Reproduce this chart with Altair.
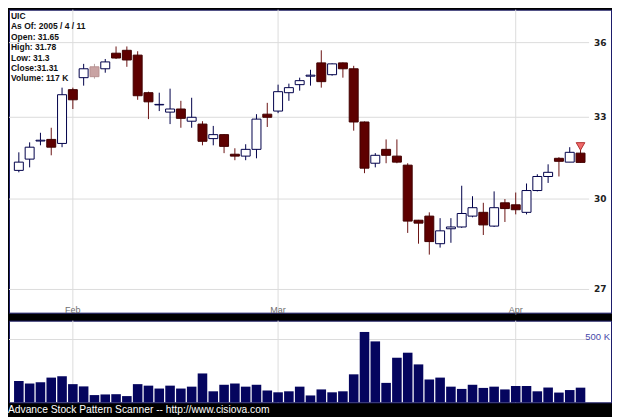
import altair as alt
import pandas as pd

# ---- data ----
dates = ["01-25", "01-26", "01-27", "01-28", "01-31",
         "02-01", "02-02", "02-03", "02-04", "02-07", "02-08", "02-09", "02-10", "02-11",
         "02-14", "02-15", "02-16", "02-17", "02-18", "02-22", "02-23", "02-24", "02-25", "02-28",
         "03-01", "03-02", "03-03", "03-04", "03-07", "03-08", "03-09", "03-10", "03-11",
         "03-14", "03-15", "03-16", "03-17", "03-18", "03-21", "03-22", "03-23", "03-24",
         "03-28", "03-29", "03-30", "03-31",
         "04-01", "04-04", "04-05", "04-06", "04-07", "04-08", "04-11"]
opens = [31.02, 31.43, 32.10, 32.16, 32.01,
         34.08, 34.56, 34.60, 34.92, 35.56, 35.68, 35.48, 33.96, 33.48,
         33.20, 33.32, 32.85, 32.74, 32.19, 32.34, 31.61, 31.54, 31.79, 33.12,
         33.24, 33.96, 34.28, 34.62, 35.16, 34.68, 35.16, 34.92, 32.82,
         31.28, 31.79, 31.54, 31.21, 29.27, 29.41, 28.48, 28.98, 29.04,
         29.41, 29.54, 29.07, 29.87,
         29.80, 29.54, 30.30, 30.80, 31.46, 31.32, 31.65]
highs = [31.68, 32.05, 32.41, 32.60, 34.16,
         34.16, 35.12, 35.12, 35.32, 35.84, 35.84, 35.64, 34.00, 33.96,
         34.12, 33.64, 33.76, 32.85, 32.67, 32.36, 31.83, 31.98, 33.12, 33.56,
         34.28, 34.32, 34.56, 34.88, 35.68, 35.14, 35.18, 35.04, 32.84,
         31.65, 32.16, 32.16, 31.28, 29.28, 29.54, 29.34, 29.34, 30.47,
         30.10, 29.87, 30.27, 30.00,
         30.23, 30.55, 30.88, 31.24, 31.50, 31.87, 31.78]
lows = [30.95, 31.13, 31.94, 31.57, 31.87,
        33.32, 34.24, 34.52, 34.76, 35.32, 35.00, 33.68, 32.93, 33.24,
        32.74, 32.60, 32.60, 31.94, 31.94, 31.65, 31.39, 31.39, 31.46, 32.63,
        33.16, 33.64, 34.04, 34.24, 34.16, 34.64, 34.56, 32.49, 30.92,
        31.13, 31.28, 31.28, 28.84, 28.48, 28.12, 28.35, 28.51, 29.01,
        29.37, 28.77, 29.04, 29.21,
        29.47, 29.47, 30.27, 30.57, 30.80, 31.32, 31.30]
closes = [31.32, 31.87, 32.13, 31.87, 33.88,
          33.68, 34.92, 35.00, 35.20, 35.36, 35.28, 33.84, 33.60, 33.50,
          33.32, 32.96, 33.00, 32.09, 32.34, 31.90, 31.54, 31.79, 32.93, 33.00,
          34.00, 34.16, 34.44, 34.66, 34.40, 35.12, 34.92, 32.82, 31.10,
          31.57, 31.57, 31.32, 29.24, 29.17, 28.55, 28.91, 29.04, 29.50,
          29.70, 29.11, 29.70, 29.67,
          29.63, 30.30, 30.80, 30.95, 31.35, 31.68, 31.31]
kinds = ["up", "up", "up", "down", "up",
         "down", "up", "pink", "up", "down", "down", "down", "down", "up",
         "up", "down", "up", "down", "up", "down", "down", "up", "up", "down",
         "up", "up", "up", "up", "down", "up", "down", "down", "down",
         "up", "down", "down", "down", "down", "down", "up", "up", "up",
         "up", "down", "up", "down",
         "down", "up", "up", "up", "down", "up", "down"]
volumes_k = [170, 150, 160, 197, 208,
             145, 127, 58, 63, 65, 50, 145, 133, 110,
             133, 110, 125, 230, 88, 140, 150, 125, 140, 95,
             80, 88, 125, 55, 103, 80, 88, 223, 560,
             485, 155, 355, 395, 302, 182, 197, 125, 107,
             140, 115, 125, 103,
             130, 130, 88, 118, 78, 98, 117]

month_names = ["Feb", "Mar", "Apr"]
month_idx = [5, 24, 46]
price_ticks = [27, 30, 33, 36]
vol_ticks = [500000]
vol_tick_labels = ["500 K"]
signal_idx = [52]
signal_price = [31.9]

ticker = "UIC"
as_of = "2005 / 4 / 11"
footer = "Advance Stock Pattern Scanner -- http://www.cisiova.com"

# ---- tables ----
n = len(opens)
df = pd.DataFrame({"i": list(range(n)), "date": dates, "open": opens, "high": highs,
                   "low": lows, "close": closes, "kind": kinds,
                   "vol": [v * 1000 for v in volumes_k]})
months = pd.DataFrame({"i": month_idx, "name": month_names})
pticks = pd.DataFrame({"p": price_ticks})
vticks = pd.DataFrame({"v": vol_ticks, "lab": vol_tick_labels})
signals = pd.DataFrame({"i": signal_idx, "p": signal_price})
info = pd.DataFrame({"t": ["\n".join([
    ticker,
    f"As Of: {as_of}",
    f"Open: {opens[-1]}",
    f"High: {highs[-1]}",
    f"Low: {lows[-1]}",
    f"Close:{closes[-1]}",
    f"Volume: {volumes_k[-1]} K",
])]})

W = 604
H_MAIN = 304
H_VOL = 82
GRID = "#dcdcdc"

xscale = alt.Scale(domain=[-0.45, 54.36], nice=False, zero=False)
yscale = alt.Scale(type="log", domain=[26.28, 37.41], nice=False, zero=False)
vscale = alt.Scale(domain=[0, 650000], nice=False, zero=True)

kind_dom = ["up", "down", "pink"]
fill_scale = alt.Scale(domain=kind_dom, range=["#ffffff", "#5e0000", "#c9a3a3"])
stroke_scale = alt.Scale(domain=kind_dom, range=["#00004a", "#420000", "#b89090"])
wick_scale = alt.Scale(domain=kind_dom, range=["#00004a", "#6b1414", "#b8a4a4"])

X = alt.X("i:Q", scale=xscale, axis=None)

vgrid_main = alt.Chart(months).mark_rule(color=GRID, strokeWidth=1).encode(x=X)
hgrid = alt.Chart(pticks).mark_rule(color=GRID, strokeWidth=1).encode(
    y=alt.Y("p:Q", scale=yscale, axis=None), x=alt.value(0), x2=alt.value(582))
plabels = alt.Chart(pticks).mark_text(
    align="left", baseline="middle", fontSize=9, fontWeight="bold", color="#222222",
    font="DejaVu Sans").encode(
    y=alt.Y("p:Q", scale=yscale, axis=None), x=alt.value(587),
    text=alt.Text("p:Q", format="d"))
mlabels = alt.Chart(months).mark_text(
    align="center", baseline="middle", fontSize=9, color="#707070").encode(
    x=X, y=alt.value(301), text="name:N")

wicks = alt.Chart(df).mark_rule(strokeWidth=1).encode(
    x=X,
    y=alt.Y("low:Q", scale=yscale, axis=None),
    y2="high:Q",
    color=alt.Color("kind:N", scale=wick_scale, legend=None))
bodies = alt.Chart(df).mark_bar(size=9, strokeWidth=1).encode(
    x=X,
    y=alt.Y("open:Q", scale=yscale, axis=None),
    y2="close:Q",
    fill=alt.Fill("kind:N", scale=fill_scale, legend=None),
    stroke=alt.Stroke("kind:N", scale=stroke_scale, legend=None))
marker = alt.Chart(signals).mark_point(
    shape="triangle-down", filled=True, size=75, fill="#f06a6a", stroke="#b03030",
    strokeWidth=1, opacity=1).encode(
    x=X, y=alt.Y("p:Q", scale=yscale, axis=None))
infotext = alt.Chart(info).mark_text(
    align="left", baseline="top", lineBreak="\n", lineHeight=10.4, fontSize=8.5,
    fontWeight="bold", color="#111111").encode(
    x=alt.value(2), y=alt.value(2.5), text="t:N")

main = alt.layer(vgrid_main, hgrid, plabels, mlabels, wicks, bodies, marker, infotext).properties(
    width=W, height=H_MAIN)

vgrid_vol = alt.Chart(months).mark_rule(color=GRID, strokeWidth=1).encode(x=X)
vhgrid = alt.Chart(vticks).mark_rule(color=GRID, strokeWidth=1).encode(
    y=alt.Y("v:Q", scale=vscale, axis=None), x=alt.value(0), x2=alt.value(582))
vbars = alt.Chart(df).mark_bar(size=9.6, color="#05055e").encode(
    x=X, y=alt.Y("vol:Q", scale=vscale, axis=None))
vlabel = alt.Chart(vticks).mark_text(
    align="right", baseline="middle", fontSize=9.5, color="#4848a8", dy=-2).encode(
    y=alt.Y("v:Q", scale=vscale, axis=None), x=alt.value(603), text="lab:N")

vol = alt.layer(vgrid_vol, vhgrid, vbars, vlabel).properties(width=W, height=H_VOL)

chart = alt.vconcat(main, vol, spacing=4).properties(
    background="black",
    padding=0,
    title=alt.TitleParams(text=footer, orient="bottom", anchor="start", color="white",
                          fontSize=10.3, font="Liberation Sans", fontWeight="normal",
                          offset=2),
).configure(font="Liberation Sans").configure_view(stroke="#1c1c6a", strokeWidth=1, fill="white")

chart.save("out.html", embed_options={"renderer": "svg", "actions": False})
